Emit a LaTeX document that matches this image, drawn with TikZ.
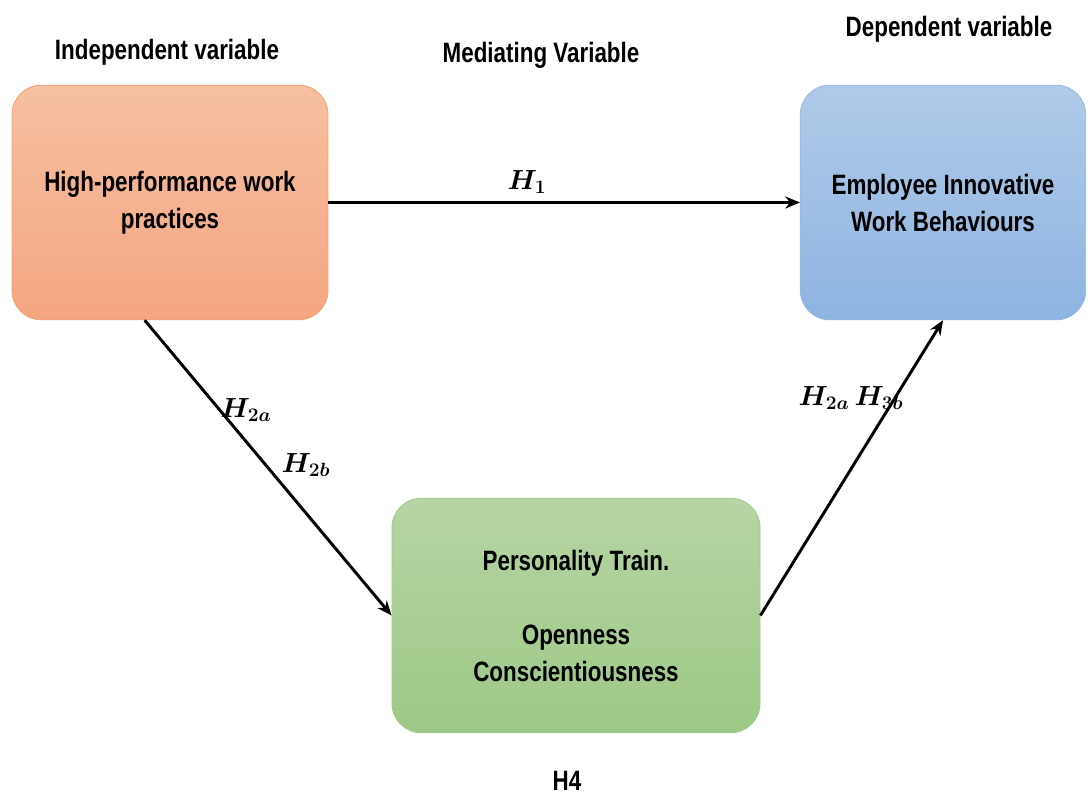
\documentclass[tikz,border=0pt]{standalone}
\usepackage{fontspec}
\usepackage{amsmath}
\usetikzlibrary{arrows.meta, positioning}
\setmainfont{Liberation Sans}[FakeStretch=0.8]
\definecolor{orangetop}{RGB}{246, 192, 162}
\definecolor{orangebot}{RGB}{244, 166, 128}
\definecolor{orangeline}{RGB}{240, 160, 120}
\definecolor{bluetop}{RGB}{176, 202, 232}
\definecolor{bluebot}{RGB}{142, 180, 226}
\definecolor{blueline}{RGB}{150, 185, 225}
\definecolor{greentop}{RGB}{181, 213, 164}
\definecolor{greenbot}{RGB}{158, 200, 134}
\definecolor{greenline}{RGB}{160, 200, 140}

\begin{document}
\begin{tikzpicture}[x=0.75pt, y=-0.75pt,
    varbox/.style={rectangle, rounded corners=22pt, line width=0.6pt, align=center,
        minimum height=176pt, font=\bfseries\fontsize{21}{27.75}\selectfont},
    heading/.style={font=\bfseries\fontsize{21}{26}\selectfont},
    hyp/.style={font=\boldmath\fontsize{21}{26}\selectfont},
    path/.style={line width=2.2pt, -{Stealth[length=11pt, width=9pt]}}]
            \useasboundingbox (0,0) rectangle (1088,798);

            % Headings
            \node[heading] (indep) at (167,52) {Independent variable};
            \node[heading] (medi) at (541,55) {Mediating Variable};
            \node[heading] (dep) at (949,29) {Dependent variable};

            % Variables
            \node[varbox, draw=orangeline, top color=orangetop, bottom color=orangebot, minimum width=237pt] (hpwp) at (170,202.5) {High-performance work\\practices};
            \node[varbox, draw=blueline, top color=bluetop, bottom color=bluebot, minimum width=214pt] (eiwb) at (943,202.5) {Employee Innovative\\Work Behaviours};
            \node[varbox, draw=greenline, top color=greentop, bottom color=greenbot, minimum width=276pt] (pers) at (576,615.5) {Personality Train.\\[27.75pt]Openness\\Conscientiousness};

            % Paths
            \draw[path] (hpwp.east) -- (eiwb.west);
            \draw[path] ([xshift=-19pt]hpwp.south) -- (pers.west);
            \draw[path] (pers.east) -- (eiwb.south);

            % Hypotheses
            \node[hyp] (h1) at (527,182) {$H_1$};
            \node[hyp] (h2a) at (246,410) {$H_{2a}$};
            \node[hyp] (h2b) at (306,465) {$H_{2b}$};
            \node[hyp] (h3b) at (851,398) {$H_{2a}\,H_{3b}$};
            \node[heading] (h4) at (567,781) {H4};
        \end{tikzpicture}
\end{document}
